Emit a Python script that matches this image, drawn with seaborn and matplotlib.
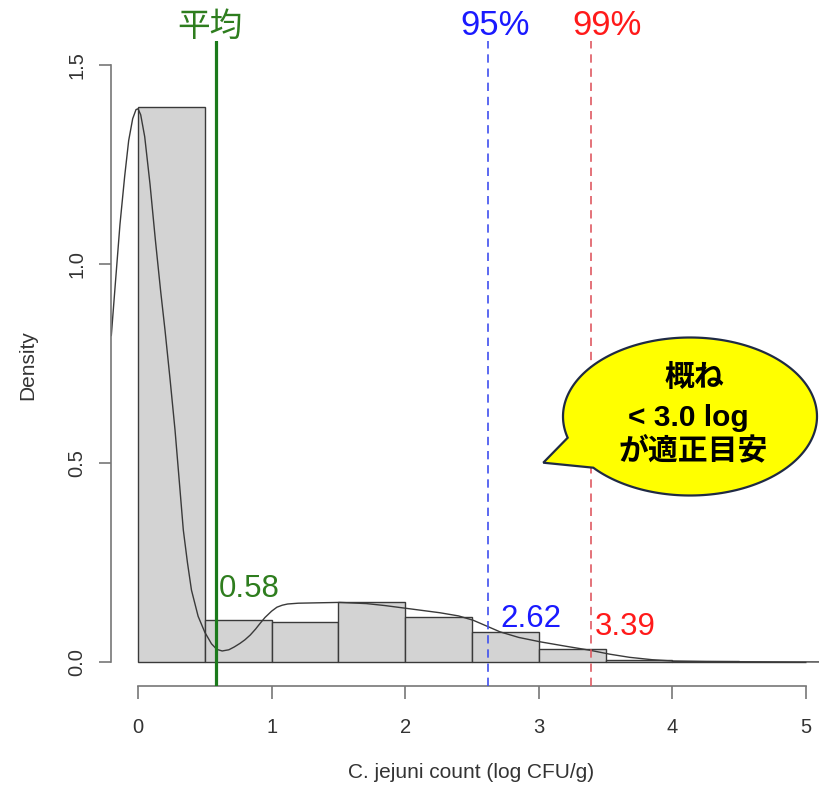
import numpy as np
import matplotlib
matplotlib.use('Agg')
import matplotlib.pyplot as plt
from matplotlib.patches import Polygon
import seaborn as sns

sns.set_style('ticks')
plt.rcParams['font.family'] = ['Liberation Sans', 'Noto Sans CJK JP', 'DejaVu Sans']

# ---------------------------------- data ----------------------------------
bin_edges = [0.0, 0.5, 1.0, 1.5, 2.0, 2.5, 3.0, 3.5, 4.0, 4.5, 5.0]
bin_density = [1.394, 0.105, 0.100, 0.152, 0.114, 0.076, 0.034, 0.005, 0.0025, 0.001]

# density curve, traced point by point
curve_x = [-0.20, -0.17, -0.135, -0.10, -0.07, -0.04, -0.015, 0.0, 0.02, 0.05, 0.09, 0.13,
           0.17, 0.202, 0.24, 0.277, 0.31, 0.339, 0.37, 0.40, 0.45, 0.50, 0.55, 0.59, 0.63,
           0.68, 0.72, 0.763, 0.80, 0.84, 0.88, 0.913, 0.95, 1.0, 1.04, 1.08, 1.12, 1.2, 1.35,
           1.51, 1.71, 1.85, 2.01, 2.26, 2.4, 2.51, 2.6, 2.71, 2.85, 3.01, 3.2, 3.38, 3.53,
           3.68, 3.85, 4.0, 4.25, 4.5, 5.0, 5.2]
curve_y = [0.82, 0.95, 1.10, 1.22, 1.31, 1.365, 1.388, 1.39, 1.375, 1.32, 1.20, 1.06,
           0.93, 0.834, 0.71, 0.583, 0.45, 0.332, 0.25, 0.181, 0.115, 0.075, 0.046, 0.032, 0.028,
           0.031, 0.038, 0.047, 0.056, 0.068, 0.083, 0.097, 0.112, 0.128, 0.138, 0.143, 0.146,
           0.148, 0.149, 0.150, 0.147, 0.142, 0.135, 0.124, 0.116, 0.105, 0.092, 0.076, 0.062,
           0.051, 0.040, 0.030, 0.020, 0.012, 0.006, 0.0028, 0.0015, 0.001, 0.0005, 0.0003]

mean_val = 0.58
p95 = 2.62
p99 = 3.39

# ---------------------------------- figure ----------------------------------
W, H = 819, 788
fig = plt.figure(figsize=(W / 100, H / 100), dpi=100)
ax = fig.add_axes([111.3 / W, (H - 686) / H, 721.4 / W, 644.9 / H])

bin_mid = [(a + b) / 2 for a, b in zip(bin_edges[:-1], bin_edges[1:])]
sns.histplot(x=bin_mid, weights=bin_density, bins=bin_edges, stat='count',
             color='#d3d3d3', edgecolor='#3a3a3a', linewidth=1.0, alpha=1, ax=ax)
sns.lineplot(x=curve_x, y=curve_y, color='#3a3a3a', lw=1.0, estimator=None, ax=ax)

ax.axvline(mean_val, color='#1b7a1b', lw=2.3, zorder=5)
ax.axvline(p95, color='#3f4fef', lw=1.2, ls=(0, (5, 3.5)), zorder=5)
ax.axvline(p99, color='#df5a62', lw=1.2, ls=(0, (5, 3.5)), zorder=5)

ax.set_xlim(-0.2, 5.2)
ax.set_ylim(-0.06, 1.56)
ax.set_xticks([0, 1, 2, 3, 4, 5])
ax.set_yticks([0.0, 0.5, 1.0, 1.5])
ax.set_yticklabels(['0.0', '0.5', '1.0', '1.5'])
for s in ['top', 'right']:
    ax.spines[s].set_visible(False)
ax.spines['left'].set_bounds(0, 1.5)
ax.spines['bottom'].set_bounds(0, 5)
for s in ['left', 'bottom']:
    ax.spines[s].set_color('#777777')
    ax.spines[s].set_linewidth(1.2)
ax.tick_params(direction='out', length=9, width=1.2, color='#777777',
               labelcolor='#333333', labelsize=14.5)
ax.tick_params(axis='x', pad=14)
ax.tick_params(axis='y', labelrotation=90, pad=9)
for lab in ax.get_yticklabels():
    lab.set_va('center')

ax.set_xlabel('C. jejuni count (log CFU/g)', fontsize=15, color='#333333', va='center')
ax.xaxis.set_label_coords((471 - 111.3) / 721.4, -(773 - 686) / 644.9)
ax.set_ylabel('Density', fontsize=15, color='#333333', va='center')
ax.yaxis.set_label_coords((28 - 111.3) / 721.4, (686 - 365) / 644.9)

# labels on top of the lines
ax.text(mean_val - 0.04, 1.594, '平均', color='#2e7d1e', fontsize=23.5,
        ha='center', va='center', clip_on=False)
ax.text(p95 + 0.05, 1.598, '95%', color='#1a1aff', fontsize=25,
        ha='center', va='center', clip_on=False)
ax.text(p99 + 0.12, 1.598, '99%', color='#ff1a1a', fontsize=25,
        ha='center', va='center', clip_on=False)

ax.text(mean_val + 0.026, 0.163, f'{mean_val:.2f}', color='#2e7d1e', fontsize=22.5, va='baseline')
ax.text(p95 + 0.09, 0.089, f'{p95:.2f}', color='#1a1aff', fontsize=22.5, va='baseline')
ax.text(p99 + 0.03, 0.068, f'{p99:.2f}', color='#ff1a1a', fontsize=22.5, va='baseline')

# speech bubble (pixel coords -> figure fraction)
cx, cy, a, b = 690, 416.5, 127, 79
t0, t1 = np.deg2rad(220.4), np.deg2rad(195.6 + 360)
ts = np.linspace(t0, t1, 200)
pts = [(cx + a * np.cos(t), cy - b * np.sin(t)) for t in ts]
pts.append((543.3, 462.7))
pts = [(px / W, 1 - py / H) for px, py in pts]
fig.patches.append(Polygon(pts, closed=True, facecolor='#ffff00', edgecolor='#1f2a44',
                           lw=1.6, transform=fig.transFigure, zorder=10))

bubble_font = ['Liberation Sans', 'Noto Sans CJK JP']
fig.text(694 / W, 1 - 377.5 / H, '概ね', fontsize=21.5, fontweight='bold', family=bubble_font,
         color='black', ha='center', va='center', zorder=11)
fig.text(688.5 / W, 1 - 426 / H, '< 3.0 log', fontsize=21.5, fontweight='bold', family=bubble_font,
         color='black', ha='center', va='baseline', zorder=11)
fig.text(693.5 / W, 1 - 452 / H, 'が適正目安', fontsize=21.5, fontweight='bold', family=bubble_font,
         color='black', ha='center', va='center', zorder=11)

fig.savefig('out.png', dpi=100)
